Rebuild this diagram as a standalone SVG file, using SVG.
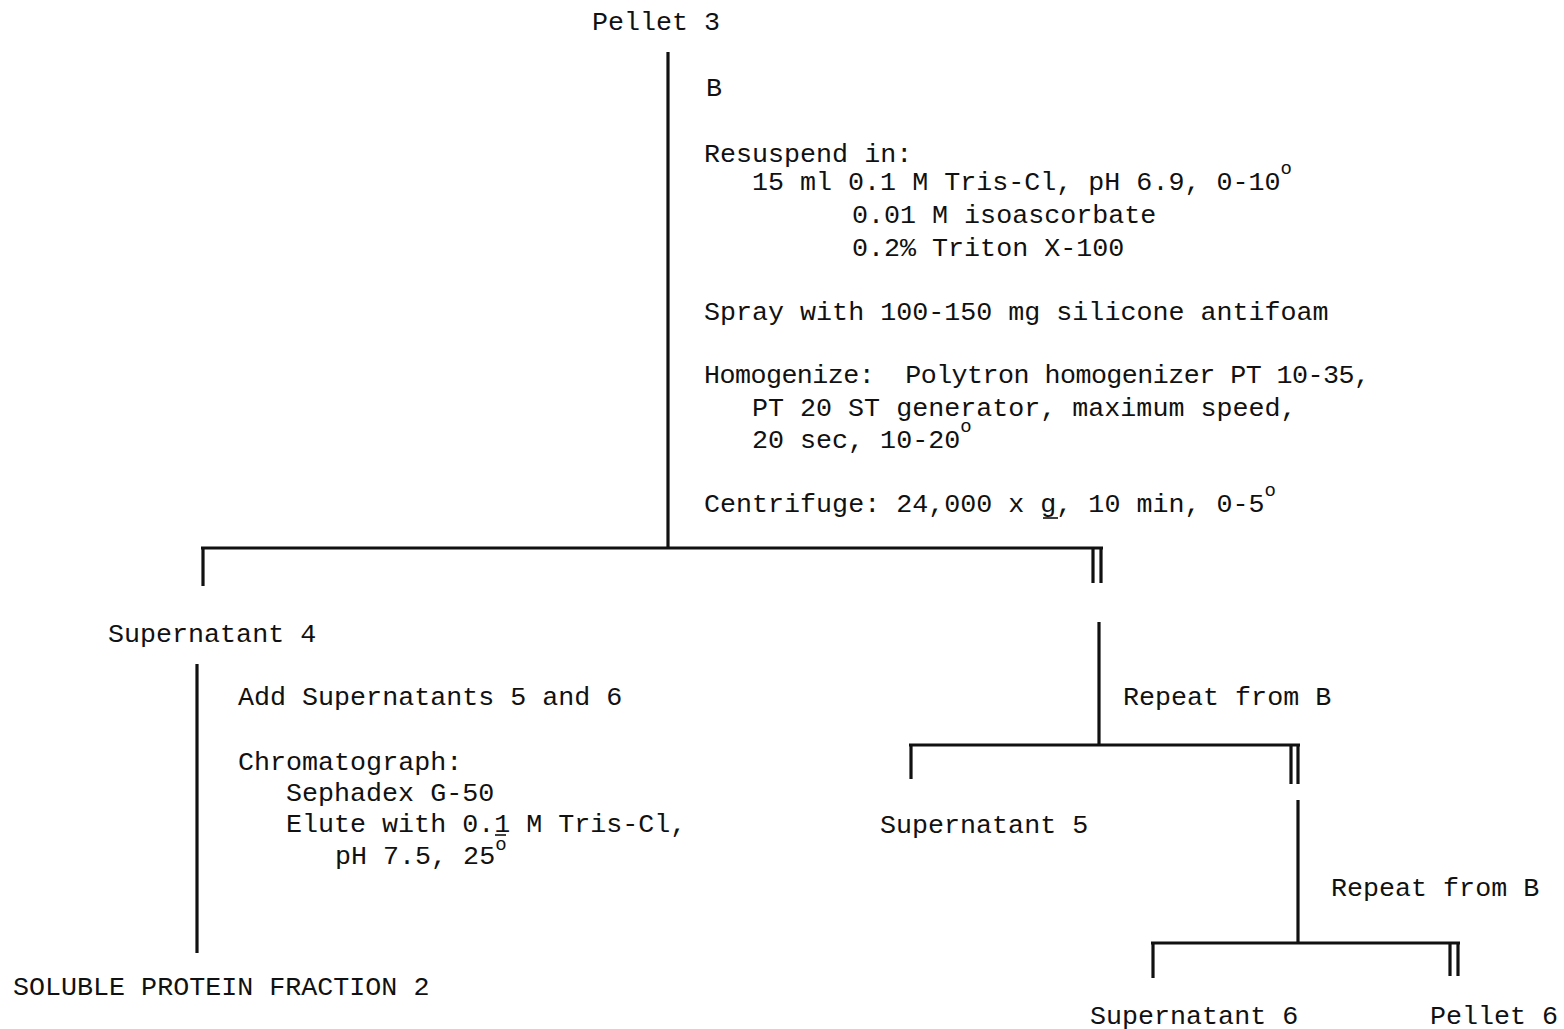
<svg xmlns="http://www.w3.org/2000/svg" width="1564" height="1029" viewBox="0 0 1564 1029">
  <style>
    text { font-family: "Liberation Mono", "Courier New", monospace; font-size: 26.7px; fill: #111; }
    .deg { font-size: 19px; }
    .ln { stroke: #111; stroke-width: 3.2; fill: none; stroke-linecap: butt; }
    .ul { stroke: #111; stroke-width: 1.6; }
  </style>
  <rect width="1564" height="1029" fill="#fff"/>

  <g id="connectors">
    <line class="ln" x1="668" y1="52" x2="668" y2="549"/>
    <line class="ln" x1="201" y1="548" x2="1103" y2="548"/>
    <line class="ln" x1="203" y1="548" x2="203" y2="586"/>
    <line class="ln" x1="1093" y1="548" x2="1093" y2="583"/>
    <line class="ln" x1="1101" y1="548" x2="1101" y2="583"/>

    <line class="ln" x1="197" y1="664" x2="197" y2="953"/>

    <line class="ln" x1="1099" y1="622" x2="1099" y2="746"/>
    <line class="ln" x1="909" y1="745" x2="1300" y2="745"/>
    <line class="ln" x1="911" y1="745" x2="911" y2="779"/>
    <line class="ln" x1="1291" y1="745" x2="1291" y2="784"/>
    <line class="ln" x1="1298" y1="745" x2="1298" y2="784"/>

    <line class="ln" x1="1298" y1="800" x2="1298" y2="944"/>
    <line class="ln" x1="1151" y1="943" x2="1460" y2="943"/>
    <line class="ln" x1="1153" y1="943" x2="1153" y2="978"/>
    <line class="ln" x1="1450" y1="943" x2="1450" y2="976"/>
    <line class="ln" x1="1458" y1="943" x2="1458" y2="976"/>
  </g>

  <g id="pellet3">
    <text x="592" y="30">Pellet 3</text>
  </g>

  <g id="stepB">
    <text x="706" y="96">B</text>
    <text x="704" y="162">Resuspend in:</text>
    <text x="752" y="190">15 ml 0.1 M Tris-Cl, pH 6.9, 0-10<tspan class="deg" dy="-16">o</tspan></text>
    <text x="852" y="223">0.01 M isoascorbate</text>
    <text x="852" y="256">0.2% Triton X-100</text>
    <text x="704" y="320">Spray with 100-150 mg silicone antifoam</text>
    <text x="704" y="383" xml:space="preserve" textLength="666" lengthAdjust="spacing">Homogenize:  Polytron homogenizer PT 10-35,</text>
    <text x="752" y="416">PT 20 ST generator, maximum speed,</text>
    <text x="752" y="448">20 sec, 10-20<tspan class="deg" dy="-16">o</tspan></text>
    <text x="704" y="512">Centrifuge: 24,000 x g, 10 min, 0-5<tspan class="deg" dy="-16">o</tspan></text>
    <line class="ul" x1="1043" y1="518" x2="1058" y2="518"/>
  </g>

  <g id="supernatant4">
    <text x="108" y="642">Supernatant 4</text>
  </g>

  <g id="stepChrom">
    <text x="238" y="705">Add Supernatants 5 and 6</text>
    <text x="238" y="770">Chromatograph:</text>
    <text x="286" y="801">Sephadex G-50</text>
    <text x="286" y="832">Elute with 0.1 M Tris-Cl,</text>
    <line class="ul" x1="495" y1="835" x2="506" y2="835"/>
    <text x="335" y="864">pH 7.5, 25<tspan class="deg" dy="-14">o</tspan></text>
  </g>

  <g id="soluble2">
    <text x="13" y="995">SOLUBLE PROTEIN FRACTION 2</text>
  </g>

  <g id="repeat1">
    <text x="1123" y="705">Repeat from B</text>
  </g>

  <g id="supernatant5">
    <text x="880" y="833">Supernatant 5</text>
  </g>

  <g id="repeat2">
    <text x="1331" y="896">Repeat from B</text>
  </g>

  <g id="supernatant6">
    <text x="1090" y="1024">Supernatant 6</text>
  </g>

  <g id="pellet6">
    <text x="1430" y="1024">Pellet 6</text>
  </g>
</svg>
